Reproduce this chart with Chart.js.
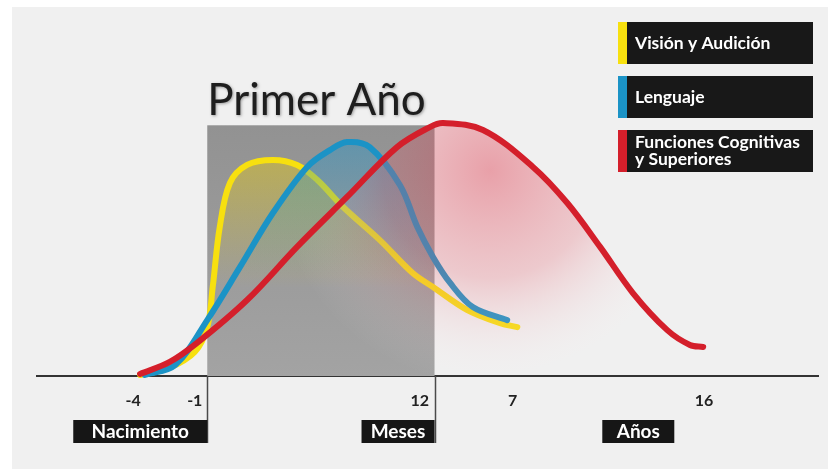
<!DOCTYPE html>
<html>
<head>
<meta charset="utf-8">
<script src="https://cdn.jsdelivr.net/npm/chart.js@4"></script>
<style>
  html, body { margin: 0; padding: 0; background: #ffffff; }
  #wrap { width: 828px; height: 469px; }
</style>
</head>
<body>
<div id="wrap"><canvas id="c" width="828" height="469"></canvas></div>
<script>
// ---------- DATA (positions on a 0–100 timeline axis) ----------
const tickLabels    = ['-4', '-1', '12', '7', '16'];
const tickPositions = [12.3, 20.2, 49.0, 60.9, 85.4];

const periodBounds  = [21.8, 50.9];          // Nacimiento .. fin del primer año
const periodTitle   = 'Primer Año';
const unitLabels    = ['Nacimiento', 'Meses', 'Años'];
const unitLabelEnds = [21.8, 50.9, 81.6];

const seriesNames = ['Visión y Audición', 'Lenguaje', 'Funciones Cognitivas\ny Superiores'];

const visionX = [13.2, 16.9, 20.2, 21.8, 22.5, 23.4, 24.7, 26.9, 30.2, 33.3, 35.9, 39.2, 43.9, 48.1, 50.7, 55.1, 59.3, 61.5];
const visionY = [0.4, 3.2, 9.6, 19.5, 35.5, 59.4, 77.0, 84.2, 86.2, 84.2, 78.2, 67.4, 54.2, 41.1, 35.5, 26.3, 21.1, 19.5];

const lenguajeX = [13.8, 17.7, 21.8, 26.0, 30.2, 34.6, 37.5, 39.7, 42.6, 46.5, 48.7, 50.7, 52.9, 55.8, 60.2];
const lenguajeY = [0.4, 4.4, 22.3, 43.5, 65.0, 83.4, 90.1, 93.3, 91.3, 76.0, 59.4, 47.5, 37.1, 27.5, 22.3];

const cognitX = [13.2, 17.0, 20.5, 26.9, 33.3, 39.7, 46.1, 50.3, 52.0, 57.1, 63.5, 67.9, 72.1, 76.3, 80.7, 83.6, 85.3];
const cognitY = [0.8, 5.6, 13.2, 30.3, 51.5, 71.4, 91.3, 99.3, 100.9, 98.1, 83.4, 69.0, 51.5, 33.1, 18.3, 12.4, 11.6];

const periodTop = 100;   // top of the "Primer Año" band (y value)

// ---------- helpers ----------
const zip = (xs, ys) => xs.map((x, i) => ({ x: x, y: ys[i] }));
const FONT = 'Lato, "Open Sans", "DejaVu Sans", sans-serif';

function vGrad(chart, topVal, botVal, c0, c1) {
  const { ctx, chartArea, scales } = chart;
  if (!chartArea) return c1;
  const g = ctx.createLinearGradient(0, scales.y.getPixelForValue(topVal), 0, scales.y.getPixelForValue(botVal));
  g.addColorStop(0, c0);
  g.addColorStop(1, c1);
  return g;
}
function rGrad(chart, cx, cy, r) {
  const { ctx, chartArea, scales } = chart;
  if (!chartArea) return 'rgba(0,0,0,0)';
  const px = scales.x.getPixelForValue(cx), py = scales.y.getPixelForValue(cy);
  const g = ctx.createRadialGradient(px, py, 0, px, py, r);
  g.addColorStop(0, 'rgba(222,50,70,0.42)');
  g.addColorStop(0.5, 'rgba(228,90,105,0.26)');
  g.addColorStop(1, 'rgba(255,255,255,0)');
  return g;
}

// ---------- decoration plugin ----------
const deco = {
  id: 'deco',
  beforeDraw(chart) {
    const c = chart.ctx;
    c.save();
    c.fillStyle = '#ffffff';
    c.fillRect(0, 0, chart.width, chart.height);
    c.fillStyle = '#f0f0f0';
    c.fillRect(12, 7, chart.width - 12, chart.height - 7);
    c.restore();
  },
  beforeDatasetsDraw(chart) {
    const c = chart.ctx, xs = chart.scales.x, ys = chart.scales.y;
    const x0 = xs.getPixelForValue(periodBounds[0]);
    const x1 = xs.getPixelForValue(periodBounds[1]);
    const yt = ys.getPixelForValue(periodTop);
    const yb = ys.getPixelForValue(0);
    c.save();
    const g = c.createLinearGradient(0, yt, 0, yb);
    g.addColorStop(0, '#929292');
    g.addColorStop(1, '#a3a3a3');
    c.fillStyle = g;
    c.fillRect(x0, yt, x1 - x0, yb - yt);
    // title
    c.font = '44px ' + FONT;
    c.fillStyle = '#1e1e1e';
    c.shadowColor = 'rgba(0,0,0,0.35)';
    c.shadowBlur = 3;
    c.shadowOffsetX = 1;
    c.shadowOffsetY = 1;
    c.textBaseline = 'alphabetic';
    c.textAlign = 'left';
    c.fillText(periodTitle, x0, yt - 10);
    c.restore();
  },
  afterDraw(chart) {
    const c = chart.ctx, xs = chart.scales.x, ys = chart.scales.y;
    const yb = ys.getPixelForValue(0);
    c.save();
    // boundary lines under the axis
    c.strokeStyle = '#4a4a4a';
    c.lineWidth = 1.5;
    periodBounds.forEach(v => {
      const px = Math.round(xs.getPixelForValue(v)) + 0.5;
      c.beginPath();
      c.moveTo(px, yb);
      c.lineTo(px, 443);
      c.stroke();
    });
    // unit label boxes
    const widths = [134, 73, 72];
    c.font = 'bold 19px ' + FONT;
    c.textBaseline = 'middle';
    c.textAlign = 'center';
    unitLabels.forEach((t, i) => {
      const right = xs.getPixelForValue(unitLabelEnds[i]);
      const left = right - widths[i];
      c.fillStyle = '#161616';
      c.fillRect(left, 420, widths[i], 23);
      c.fillStyle = '#ffffff';
      c.fillText(t, left + widths[i] / 2, 432);
    });
    // legend
    const tops = [22, 76, 130];
    chart.data.datasets.forEach((ds, i) => {
      const top = tops[i], h = 42;
      c.fillStyle = ds.borderColor;
      c.fillRect(618, top, 9, h);
      c.fillStyle = '#181818';
      c.fillRect(627, top, 186, h);
      c.fillStyle = '#ffffff';
      c.font = 'bold 17.5px ' + FONT;
      c.textAlign = 'left';
      c.textBaseline = 'middle';
      const lines = ds.label.split('\n');
      const lh = 17;
      lines.forEach((ln, k) => {
        c.fillText(ln, 635, top + h / 2 + (k - (lines.length - 1) / 2) * lh);
      });
    });
    c.restore();
  }
};

const common = {
  borderWidth: 6,
  pointRadius: 0,
  pointHoverRadius: 0,
  tension: 0.35,
  borderCapStyle: 'round',
  borderJoinStyle: 'round',
  clip: false,
  fill: 'origin'
};

new Chart(document.getElementById('c'), {
  type: 'line',
  data: {
    datasets: [
      Object.assign({}, common, {
        label: seriesNames[0],
        data: zip(visionX, visionY),
        borderColor: '#f7e00f',
        backgroundColor: ctx => vGrad(ctx.chart, 88, 35, 'rgba(235,205,10,0.45)', 'rgba(235,205,10,0)'),
        order: 3
      }),
      Object.assign({}, common, {
        label: seriesNames[1],
        data: zip(lenguajeX, lenguajeY),
        borderColor: '#1b93c6',
        backgroundColor: ctx => vGrad(ctx.chart, 94, 40, 'rgba(30,150,205,0.42)', 'rgba(30,150,205,0)'),
        order: 2
      }),
      Object.assign({}, common, {
        label: seriesNames[2],
        data: zip(cognitX, cognitY),
        borderColor: '#d41f2b',
        backgroundColor: ctx => rGrad(ctx.chart, 58, 82, 215),
        order: 1
      })
    ]
  },
  options: {
    responsive: false,
    animation: false,
    devicePixelRatio: 1,
    layout: { padding: { left: 37, right: 10, top: 25, bottom: 0 } },
    plugins: { legend: { display: false }, tooltip: { enabled: false }, title: { display: false } },
    scales: {
      x: {
        type: 'linear',
        min: 0,
        max: 100,
        grid: { display: false, drawTicks: false },
        border: { display: true, color: '#333333', width: 2 },
        afterBuildTicks: s => { s.ticks = tickPositions.map(v => ({ value: v })); },
        afterFit: s => { s.height = 93; },
        ticks: {
          autoSkip: false,
          maxRotation: 0,
          padding: 15,
          color: '#222222',
          font: { family: FONT, size: 16, weight: 'bold' },
          callback: v => {
            const i = tickPositions.indexOf(v);
            return i >= 0 ? tickLabels[i] : '';
          }
        }
      },
      y: {
        type: 'linear',
        min: 0,
        max: 140,
        display: false
      }
    }
  },
  plugins: [deco]
});
</script>
</body>
</html>
